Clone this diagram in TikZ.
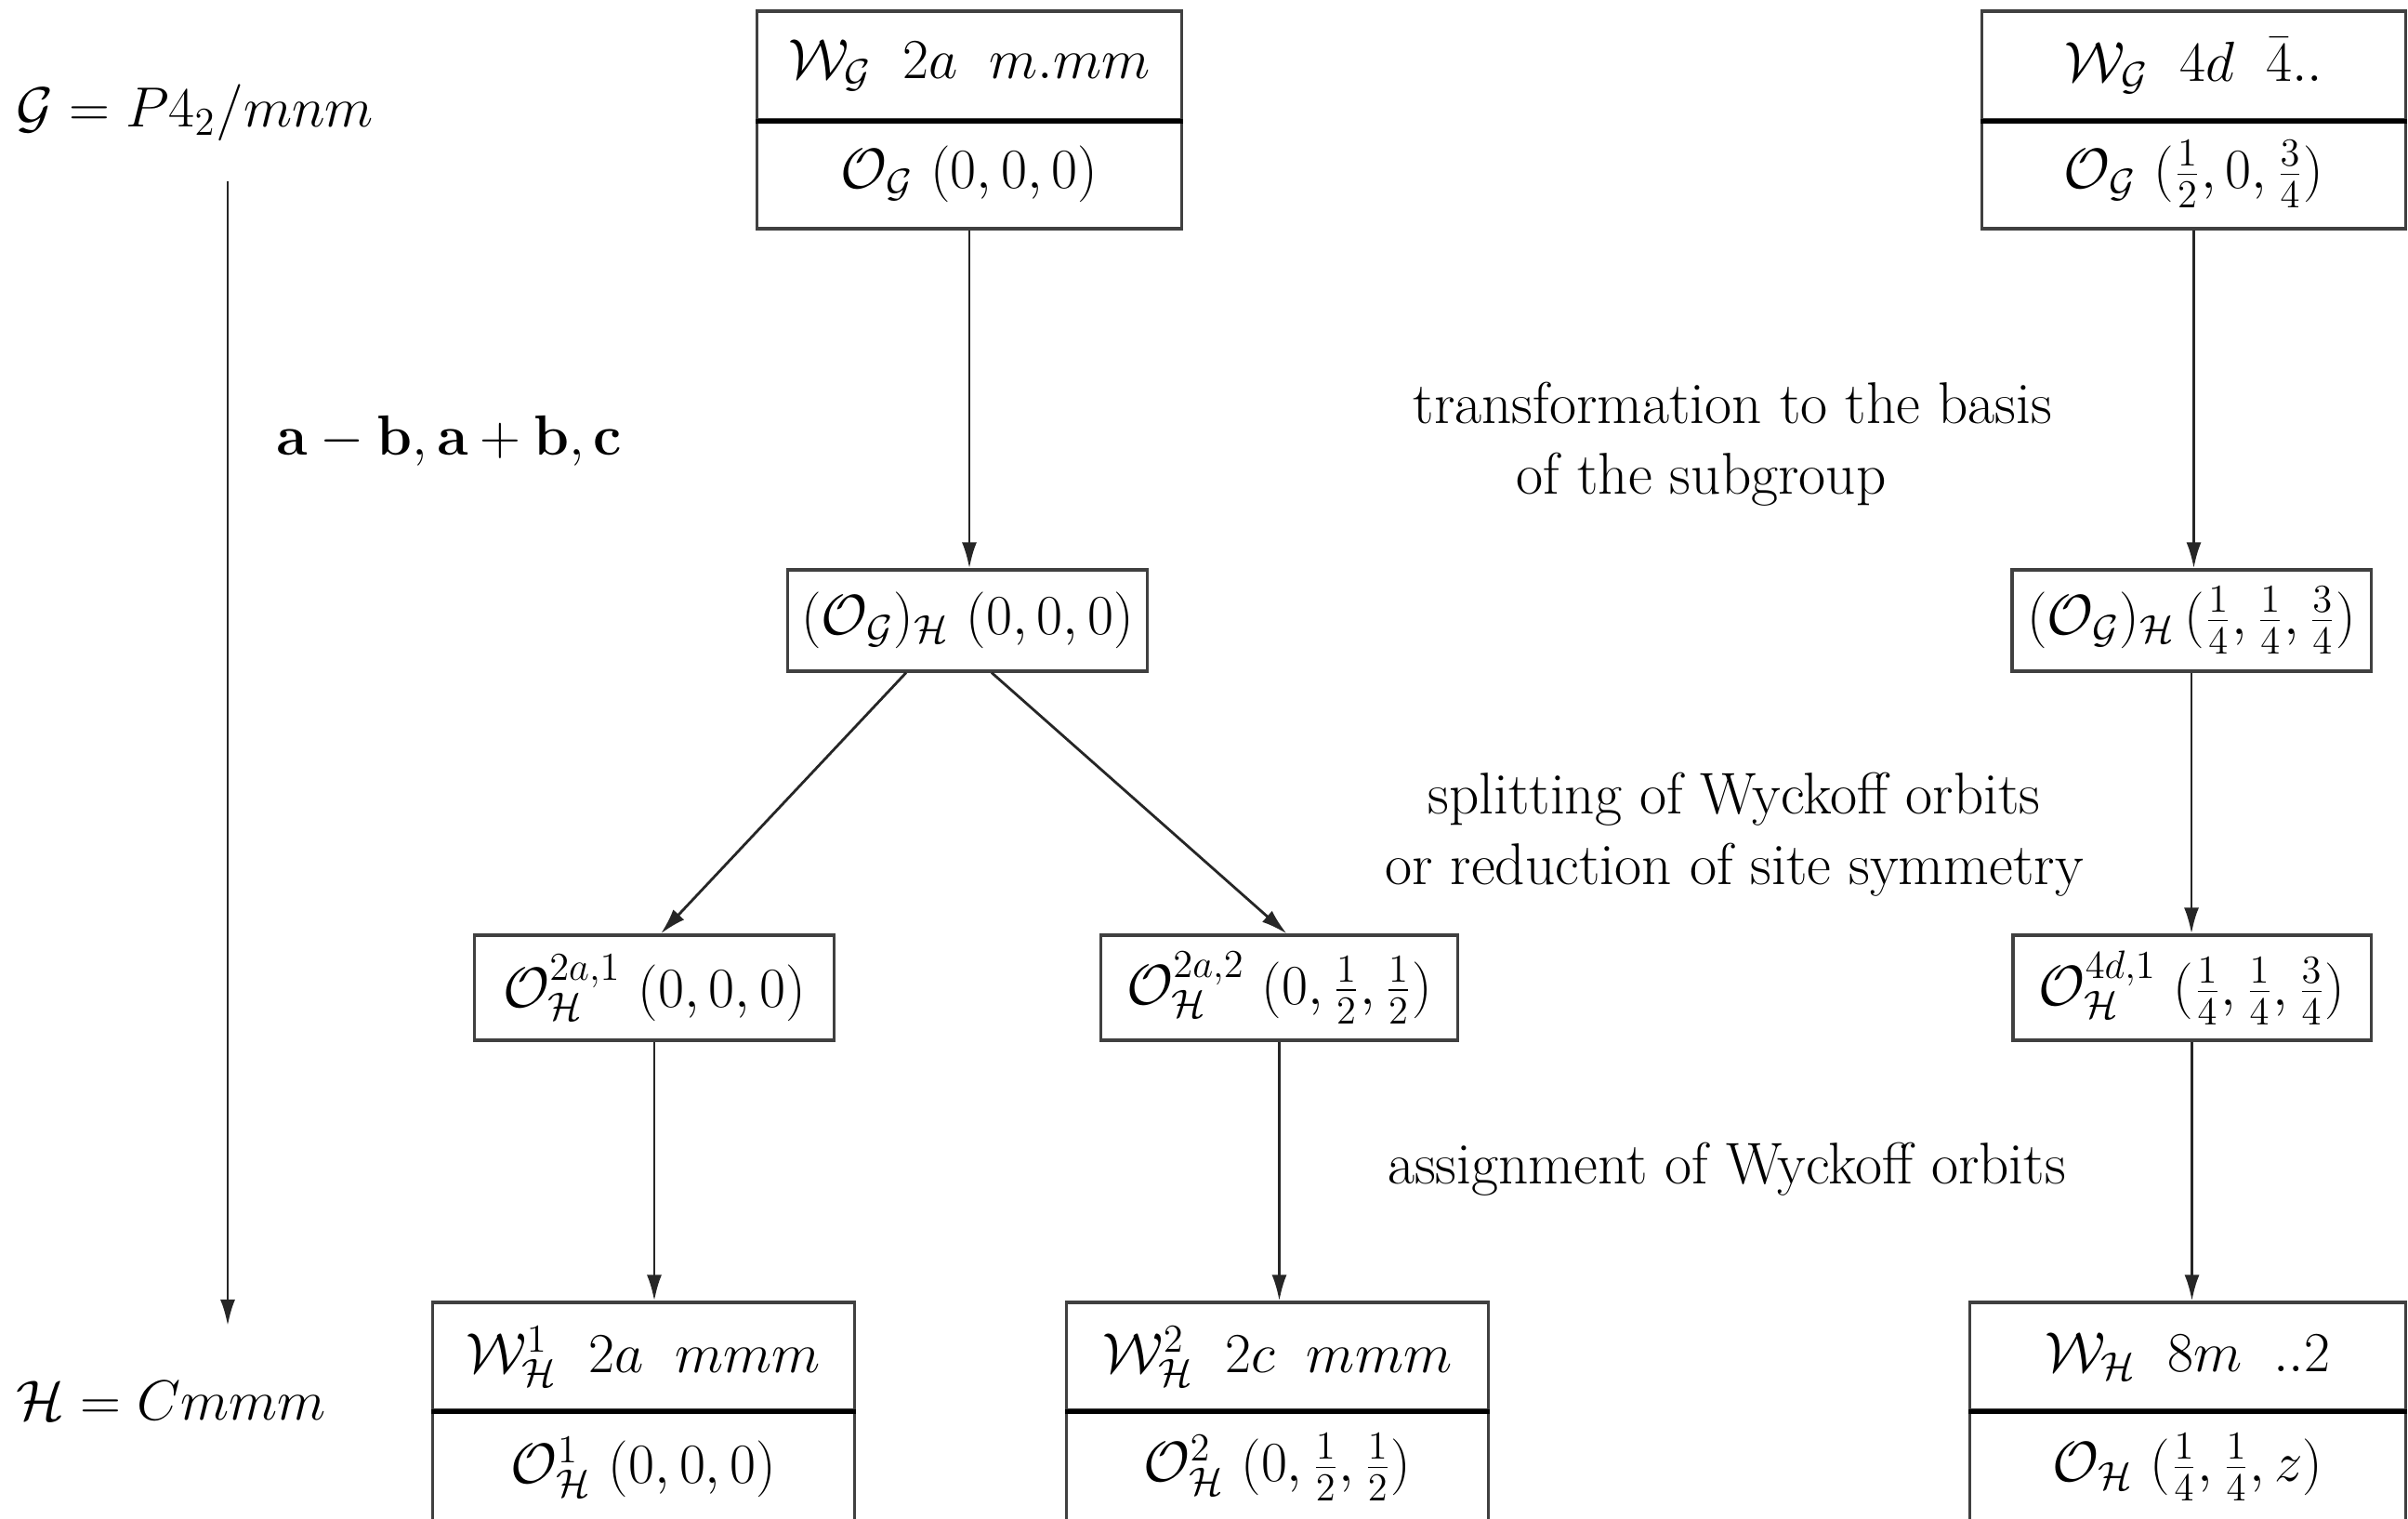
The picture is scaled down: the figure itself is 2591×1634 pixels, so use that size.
\RequirePackage{fix-cm}
\documentclass[tikz,border=0pt]{standalone}
\usepackage{tikz}
\usetikzlibrary{arrows.meta}

\begin{document}
\begin{tikzpicture}[x=0.01cm, y=-0.01cm,
    every node/.style={font=\fontsize{17.3}{21}\selectfont},
    cell/.style={draw=black!75, line width=0.9pt, inner sep=0pt,
                 minimum height=#1},
    cell/.default=1.17cm,
    divider/.style={line width=1.5pt, black},
    arr/.style={draw=black!85, line width=0.8pt,
                -{Latex[length=0.28cm, width=0.16cm]}},
    note/.style={font=\fontsize{18}{21.5}\selectfont}]
  \useasboundingbox (0,0) rectangle (2591,1634);
  % group labels and the left arrow
  \node[anchor=west, inner xsep=0pt] (grpG) at (17,121)
    {$\mathcal{G} = P4_2/mnm$};
  \node[anchor=west, inner xsep=0pt] (grpH) at (17,1507)
    {$\mathcal{H} = Cmmm$};
  \coordinate (gtop) at (245,195);
  \coordinate (hbot) at (245,1426);
  \draw[arr] (gtop) -- (hbot);
  \node[anchor=west, inner xsep=0pt] (basis) at (297,474)
    {$\mathbf{a}-\mathbf{b},\mathbf{a}+\mathbf{b},\mathbf{c}$};
  % Wyckoff positions of G
  \node[cell, minimum width=4.56cm] (wg1) at (1043,70.5)
    {$\mathcal{W}_{\mathcal{G}}\;\; 2a\;\; m.mm$};
  \node[cell, minimum width=4.56cm] (og1) at (1043,187.5)
    {$\mathcal{O}_{\mathcal{G}}\ (0,0,0)$};
  \node[cell, minimum width=4.55cm] (wg2) at (2360.5,70.5)
    {$\mathcal{W}_{\mathcal{G}}\;\; 4d\;\; \bar{4}..$};
  \node[cell, minimum width=4.55cm] (og2) at (2360.5,187.5)
    {$\mathcal{O}_{\mathcal{G}}\ (\frac12,0,\frac34)$};
  % transformed orbits
  \node[cell=1.09cm, minimum width=3.86cm] (ogh1) at (1041,667.5)
    {$(\mathcal{O}_{\mathcal{G}})_{\mathcal{H}}\ (0,0,0)$};
  \node[cell=1.09cm, minimum width=3.86cm] (ogh2) at (2358,667.5)
    {$(\mathcal{O}_{\mathcal{G}})_{\mathcal{H}}\,(\frac14,\frac14,\frac34)$};
  % split orbits
  \node[cell=1.13cm, minimum width=3.86cm] (oh1) at (704,1062.5)
    {$\mathcal{O}^{2a,1}_{\mathcal{H}}\ (0,0,0)$};
  \node[cell=1.13cm, minimum width=3.83cm] (oh2) at (1376.5,1062.5)
    {$\mathcal{O}^{2a,2}_{\mathcal{H}}\ (0,\frac12,\frac12)$};
  \node[cell=1.13cm, minimum width=3.85cm] (oh3) at (2358.5,1062.5)
    {$\mathcal{O}^{4d,1}_{\mathcal{H}}\ (\frac14,\frac14,\frac34)$};
  % Wyckoff positions of H
  \node[cell=1.16cm, minimum width=4.53cm] (wh1) at (692.5,1459)
    {$\mathcal{W}^1_{\mathcal{H}}\;\; 2a\;\; mmm$};
  \node[cell=1.23cm, minimum width=4.53cm] (ohb1) at (692.5,1578.5)
    {$\mathcal{O}^1_{\mathcal{H}}\ (0,0,0)$};
  \node[cell=1.16cm, minimum width=4.53cm] (wh2) at (1374.5,1459)
    {$\mathcal{W}^2_{\mathcal{H}}\;\; 2c\;\; mmm$};
  \node[cell=1.23cm, minimum width=4.53cm] (ohb2) at (1374.5,1578.5)
    {$\mathcal{O}^2_{\mathcal{H}}\ (0,\frac12,\frac12)$};
  \node[cell=1.16cm, minimum width=4.68cm] (wh3) at (2354,1459)
    {$\mathcal{W}_{\mathcal{H}}\;\; 8m\;\; ..2$};
  \node[cell=1.23cm, minimum width=4.68cm] (ohb3) at (2354,1578.5)
    {$\mathcal{O}_{\mathcal{H}}\ (\frac14,\frac14,z)$};
  \foreach \w in {wg1, wg2, wh1, wh2, wh3}
    \draw[divider] (\w.south west) -- (\w.south east);
  % the steps
  \node[note, align=left, anchor=west, inner xsep=0pt] (step1) at (1520,478)
    {transformation to the basis\\\hspace*{1.11cm}of the subgroup};
  \node[note, align=center] (step2) at (1866,898)
    {splitting of Wyckoff orbits\\or reduction of site symmetry};
  \node[note] (step3) at (1858,1258) {assignment of Wyckoff orbits};
  % arrows
  \draw[arr] (og1.south) -- (og1.south |- ogh1.north);
  \draw[arr] (og2.south) -- (og2.south |- ogh2.north);
  \draw[arr] ([xshift=-0.66cm]ogh1.south) -- ([xshift=0.07cm]oh1.north);
  \draw[arr] ([xshift=0.26cm]ogh1.south) -- ([xshift=0.08cm]oh2.north);
  \draw[arr] (ogh2.south) -- (ogh2.south |- oh3.north);
  \draw[arr] (oh1.south) -- (oh1.south |- wh1.north);
  \draw[arr] (oh2.south) -- (oh2.south |- wh2.north);
  \draw[arr] (oh3.south) -- (oh3.south |- wh3.north);
\end{tikzpicture}
\end{document}
